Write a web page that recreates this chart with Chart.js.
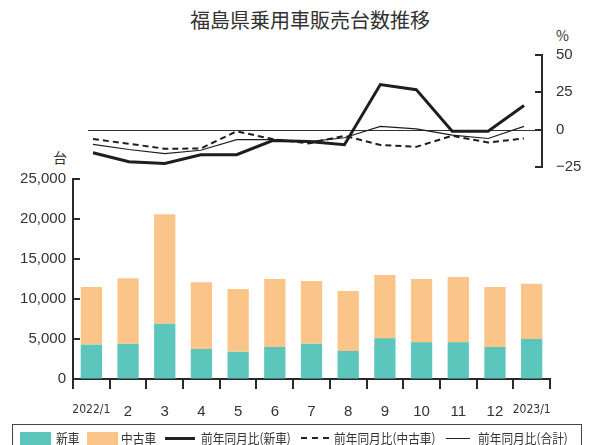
<!DOCTYPE html>
<html lang="ja">
<head>
<meta charset="utf-8">
<script src="https://cdn.jsdelivr.net/npm/chart.js@4"></script>
<style>
  body { margin: 0; background: #fff; }
  #wrap { position: relative; width: 590px; height: 445px; overflow: hidden; font-family: "Liberation Sans", Arial, sans-serif; color: #333; }
  #title { position: absolute; left: 0; width: 620px; top: 5px; text-align: center; font: 20px "Noto Sans CJK JP", sans-serif; color: #333; }
  .unit { position: absolute; font: 14px "Noto Sans CJK JP", sans-serif; color: #333; }
  canvas { position: absolute; left: 0; }
  #legend { position: absolute; left: 12px; top: 424px; width: 570px; height: 30px; border: 1px solid #444; box-sizing: border-box; }
  #legend span { position: absolute; white-space: nowrap; }
  .txt { top: 3px; font: 13px "Noto Sans CJK JP", sans-serif; color: #333; transform: scaleX(0.9); transform-origin: left center; }
  .sw { top: 7px; width: 31px; height: 14px; }
  .ln { top: 12px; border-top: 3px solid #222; }
</style>
</head>
<body>
<div id="wrap">
  <div id="title">福島県乗用車販売台数推移</div>
  <div class="unit" style="left:556px; top:25px;">%</div>
  <div class="unit" style="left:53px; top:147px;">台</div>
  <canvas id="rateChart" width="590" height="140" style="top:40px;"></canvas>
  <canvas id="salesChart" width="590" height="265" style="top:160px;"></canvas>
  <div id="legend">
    <span class="sw" style="left:7px; background:#5cc5bc"></span>
    <span class="txt" style="left:43px;">新車</span>
    <span class="sw" style="left:74px; background:#fbc589"></span>
    <span class="txt" style="left:108px;">中古車</span>
    <span class="ln" style="left:152px; width:30px;"></span>
    <span class="txt" style="left:188px;">前年同月比(新車)</span>
    <span class="ln" style="left:288px; width:28px; border-top:2px dashed #222; top:12px;"></span>
    <span class="txt" style="left:321px;">前年同月比(中古車)</span>
    <span class="ln" style="left:433px; width:24px; border-top:1px solid #222; top:13px;"></span>
    <span class="txt" style="left:465px;">前年同月比(合計)</span>
  </div>
</div>
<script>
const months = ['2022/1', '2', '3', '4', '5', '6', '7', '8', '9', '10', '11', '12', '2023/1'];

// 販売台数
const newCars = [4300, 4400, 6900, 3750, 3400, 4000, 4400, 3500, 5100, 4600, 4600, 4000, 5000];
const usedCars = [7200, 8200, 13700, 8350, 7850, 8500, 7850, 7500, 7900, 7900, 8150, 7500, 6900];

// 前年同月比 (%)
const yoyNew = [-15.5, -21.5, -22.6, -16.8, -16.8, -7.3, -7.9, -10.1, 30.2, 26.8, -1.1, -1, 16.2];
const yoyUsed = [-6.3, -9.4, -12.8, -12.6, -1.1, -6.3, -9.2, -4.1, -10.3, -11.5, -4.1, -8.6, -5.9];
const yoyTotal = [-9.8, -13.3, -16.1, -13.8, -6.7, -6.7, -8, -5.4, 2.2, 0.5, -3.6, -5.9, 2.2];

const yTicks = [0, 5000, 10000, 15000, 20000, 25000];
const rateTicks = [-25, 0, 25, 50];

const TEXT = '#333';
const AXIS = '#2a2a2a';
const numFont = { family: '"Liberation Sans", Arial, sans-serif', size: 15 };

// inward tick marks on the value axis
const innerTicks = {
  id: 'innerTicks',
  afterDraw(chart, args, opts) {
    const scale = chart.scales.y;
    const ctx = chart.ctx;
    const x = opts.side === 'right' ? chart.chartArea.right : chart.chartArea.left;
    const dir = opts.side === 'right' ? -1 : 1;
    ctx.save();
    ctx.strokeStyle = AXIS;
    ctx.lineWidth = 2;
    scale.ticks.forEach(t => {
      const y = Math.round(scale.getPixelForValue(t.value));
      ctx.beginPath();
      ctx.moveTo(x, y);
      ctx.lineTo(x + dir * 7, y);
      ctx.stroke();
    });
    ctx.restore();
  }
};

// zero reference line for the rate chart
const zeroLine = {
  id: 'zeroLine',
  beforeDatasetsDraw(chart) {
    const { ctx, chartArea, scales } = chart;
    const y = Math.round(scales.y.getPixelForValue(0)) + 0.5;
    const x0 = scales.x.getPixelForValue(0) - 5;
    ctx.save();
    ctx.strokeStyle = '#333';
    ctx.lineWidth = 1.2;
    ctx.beginPath();
    ctx.moveTo(x0, y);
    ctx.lineTo(chartArea.right, y);
    ctx.stroke();
    ctx.restore();
  }
};

// label gap from the axis without adding vertical padding
const hiddenTickGap = (len) => ({ drawOnChartArea: false, drawTicks: true, tickLength: len, color: 'rgba(0,0,0,0)' });

new Chart(document.getElementById('salesChart'), {
  type: 'bar',
  data: {
    labels: months,
    datasets: [
      { label: '新車', data: newCars, backgroundColor: '#5cc5bc' },
      { label: '中古車', data: usedCars, backgroundColor: '#fbc589' }
    ]
  },
  options: {
    responsive: false,
    animation: false,
    locale: 'en-US',
    layout: { padding: { top: 19, right: 40, left: 0, bottom: 0 } },
    categoryPercentage: 1,
    barPercentage: 0.58,
    plugins: { legend: { display: false }, tooltip: { enabled: false }, innerTicks: { side: 'left' } },
    scales: {
      x: {
        stacked: true,
        grid: { drawOnChartArea: false, drawTicks: true, tickLength: 10, color: AXIS, lineWidth: 2 },
        border: { display: true, color: AXIS, width: 2 },
        ticks: {
          color: TEXT,
          padding: 14,
          maxRotation: 0,
          autoSkip: false,
          font: (c) => (c.index === 0 || c.index === 12)
            ? { family: '"Liberation Sans Narrow", "DejaVu Sans Condensed", sans-serif', size: 12 }
            : numFont
        },
        afterFit(scale) { scale.height = 46; }
      },
      y: {
        stacked: true,
        min: 0,
        max: 25000,
        afterBuildTicks(scale) { scale.ticks = yTicks.map(v => ({ value: v })); },
        grid: hiddenTickGap(7),
        border: { display: true, color: AXIS, width: 2 },
        ticks: { color: TEXT, padding: 0, font: numFont },
        afterFit(scale) { scale.width = 73; }
      }
    }
  },
  plugins: [innerTicks]
});

new Chart(document.getElementById('rateChart'), {
  type: 'line',
  data: {
    labels: months,
    datasets: [
      { label: '前年同月比(新車)', data: yoyNew, borderColor: '#1e1e1e', borderWidth: 3 },
      { label: '前年同月比(中古車)', data: yoyUsed, borderColor: '#1e1e1e', borderWidth: 2, borderDash: [6, 4] },
      { label: '前年同月比(合計)', data: yoyTotal, borderColor: '#1e1e1e', borderWidth: 1.2 }
    ]
  },
  options: {
    responsive: false,
    animation: false,
    layout: { padding: { top: 15, bottom: 13, left: 75, right: 0 } },
    elements: { point: { radius: 0 }, line: { tension: 0 } },
    plugins: { legend: { display: false }, tooltip: { enabled: false }, innerTicks: { side: 'right' } },
    scales: {
      x: { display: false, offset: true },
      y: {
        position: 'right',
        min: -25,
        max: 50,
        afterBuildTicks(scale) { scale.ticks = rateTicks.map(v => ({ value: v })); },
        grid: hiddenTickGap(14),
        border: { display: true, color: AXIS, width: 2 },
        ticks: {
          color: TEXT,
          padding: 0,
          font: numFont,
          callback: (v) => String(v).replace('-', '\u2212')
        },
        afterFit(scale) { scale.width = 48; }
      }
    }
  },
  plugins: [innerTicks, zeroLine]
});
</script>
</body>
</html>
